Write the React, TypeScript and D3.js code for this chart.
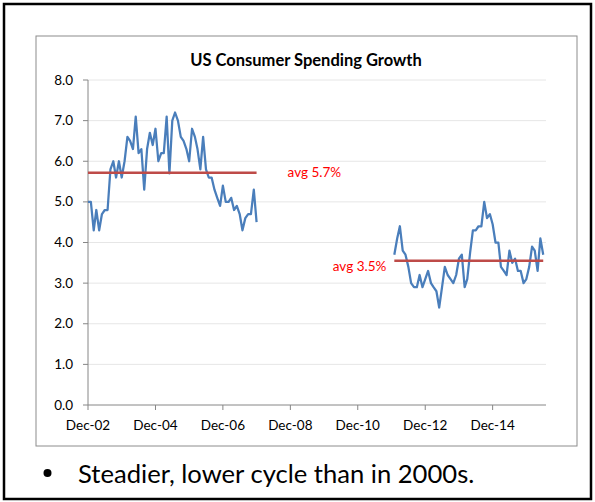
import React from "react";
import * as d3 from "d3";

// monthly growth, % y/y
const earlyStart = new Date(Date.UTC(2002, 11, 1)); // Dec-02
const earlyValues = [
  5.0, 5.0, 4.3, 4.8, 4.3, 4.7, 4.8, 4.8, 5.8, 6.0,
  5.6, 6.0, 5.6, 6.0, 6.6, 6.5, 6.3, 7.1, 6.2, 6.3,
  5.3, 6.3, 6.7, 6.4, 6.8, 6.0, 6.2, 6.2, 7.1, 5.7,
  7.0, 7.2, 7.0, 6.6, 6.5, 6.3, 6.0, 6.8, 6.6, 6.3,
  5.8, 6.6, 5.8, 5.6, 5.6, 5.3, 5.1, 4.9, 5.4, 5.0,
  5.0, 5.1, 4.8, 4.9, 4.7, 4.3, 4.6, 4.7, 4.7, 5.3,
  4.5,
];
const lateStart = new Date(Date.UTC(2012, 0, 1)); // Jan-12
const lateValues = [
  3.7, 4.1, 4.4, 3.8, 3.7, 3.4, 3.0, 2.9, 2.9, 3.2,
  2.9, 3.1, 3.3, 3.0, 2.9, 2.8, 2.4, 2.9, 3.4, 3.2,
  3.1, 3.0, 3.2, 3.6, 3.7, 2.9, 3.1, 3.75, 4.3, 4.3,
  4.4, 4.4, 5.0, 4.6, 4.7, 4.45, 4.0, 4.0, 3.4, 3.3,
  3.2, 3.8, 3.5, 3.6, 3.3, 3.3, 3.0, 3.1, 3.4, 3.9,
  3.8, 3.3, 4.1, 3.7,
];
const averages = [
  { value: 5.72, label: "avg 5.7%" },
  { value: 3.55, label: "avg 3.5%" },
];
const yTicks = [0, 1, 2, 3, 4, 5, 6, 7, 8];
const xTickLabels = ["Dec-02", "Dec-04", "Dec-06", "Dec-08", "Dec-10", "Dec-12", "Dec-14"];

const W = 595;
const H = 502;
const font = "Lato, 'Open Sans', sans-serif";

const toPoints = (start: Date, vals: number[]) =>
  vals.map((v, i) => ({ date: d3.utcMonth.offset(start, i), value: v }));

export default function App() {
  const early = toPoints(earlyStart, earlyValues);
  const late = toPoints(lateStart, lateValues);

  const x = d3
    .scaleUtc()
    .domain([earlyStart, new Date(Date.UTC(2016, 6, 1))])
    .range([88, 546]);
  const y = d3.scaleLinear().domain([0, 8]).range([405, 80]);

  const line = d3
    .line<{ date: Date; value: number }>()
    .x((d) => x(d.date))
    .y((d) => y(d.value));

  const xTicks = xTickLabels.map((lab, i) => ({
    label: lab,
    date: d3.utcMonth.offset(earlyStart, i * 24),
  }));

  const segs = [early, late];

  return (
    <svg
      width={W}
      height={H}
      style={{ position: "absolute", left: 0, top: 0, background: "#fff" }}
    >
      {/* slide border */}
      <rect x={4} y={4} width={587} height={495} fill="#fff" stroke="#000" strokeWidth={2.5} />
      {/* chart frame */}
      <rect x={36} y={36} width={541} height={410} fill="#fff" stroke="#8c8c8c" strokeWidth={1} />

      <text x={306} y={66} textAnchor="middle" fontFamily={font} fontWeight="bold" fontSize={16.5}>
        US Consumer Spending Growth
      </text>

      {/* gridlines + y labels */}
      {yTicks.map((t) => (
        <g key={t}>
          {t > 0 && (
            <line x1={88} x2={546} y1={y(t)} y2={y(t)} stroke="#e6e6e6" strokeWidth={1} />
          )}
          <line x1={83} x2={88} y1={y(t)} y2={y(t)} stroke="#868686" />
          <text x={73} y={y(t) + 4.5} textAnchor="end" fontFamily={font} fontSize={13.5} fill="#000">
            {t.toFixed(1)}
          </text>
        </g>
      ))}

      {/* axes */}
      <line x1={88} x2={88} y1={80} y2={405} stroke="#868686" />
      <line x1={88} x2={546} y1={405} y2={405} stroke="#868686" />
      {xTicks.map((t) => (
        <g key={t.label}>
          <line x1={x(t.date)} x2={x(t.date)} y1={405} y2={410} stroke="#868686" />
          <text x={x(t.date)} y={430} textAnchor="middle" fontFamily={font} fontSize={13.5}>
            {t.label}
          </text>
        </g>
      ))}

      {/* series */}
      {segs.map((s, i) => (
        <path
          key={i}
          d={line(s) || ""}
          fill="none"
          stroke="#4a7ebb"
          strokeWidth={2.25}
          strokeLinejoin="round"
        />
      ))}

      {/* averages */}
      {segs.map((s, i) => {
        const a = averages[i];
        const x0 = x(s[0].date);
        const x1 = x(s[s.length - 1].date);
        return (
          <g key={"avg" + i}>
            <line x1={x0} x2={x1} y1={y(a.value)} y2={y(a.value)} stroke="#be4b48" strokeWidth={2.5} />
            <text
              x={i === 0 ? x1 + 31 : x0 - 8}
              y={i === 0 ? y(a.value) + 4.5 : y(a.value) + 10.5}
              textAnchor={i === 0 ? "start" : "end"}
              fontFamily={font}
              fontSize={13.5}
              fill="#ff0000"
            >
              {a.label}
            </text>
          </g>
        );
      })}

      {/* bullet */}
      <circle cx={47.5} cy={473} r={4} fill="#000" />
      <text x={78} y={483} fontFamily={font} fontSize={25.6} fill="#000">
        Steadier, lower cycle than in 2000s.
      </text>
    </svg>
  );
}
